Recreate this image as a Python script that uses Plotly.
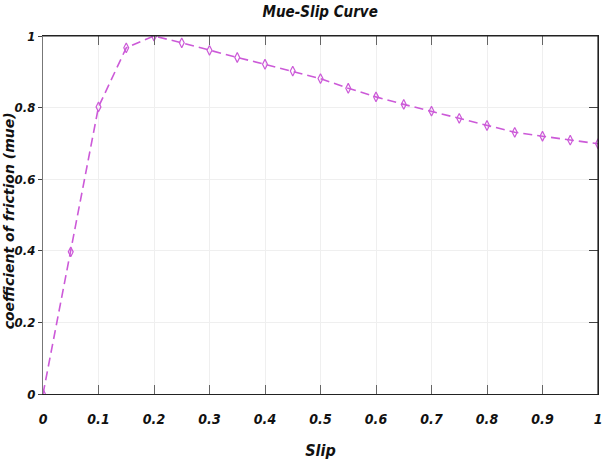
import plotly.graph_objects as go

# Slip ratio and the matching friction coefficient (mue)
slip = [0.0, 0.05, 0.1, 0.15, 0.2, 0.25, 0.3, 0.35, 0.4, 0.45, 0.5,
        0.55, 0.6, 0.65, 0.7, 0.75, 0.8, 0.85, 0.9, 0.95, 1.0]
mue = [0.0, 0.397, 0.802, 0.967, 1.0, 0.981, 0.96, 0.94, 0.921, 0.902, 0.881,
       0.854, 0.83, 0.809, 0.79, 0.77, 0.75, 0.731, 0.72, 0.709, 0.699]

x_ticks = [0, 0.1, 0.2, 0.3, 0.4, 0.5, 0.6, 0.7, 0.8, 0.9, 1]
x_tick_labels = ["0", "0.1", "0.2", "0.3", "0.4", "0.5", "0.6", "0.7", "0.8", "0.9", "1"]
y_ticks = [0, 0.2, 0.4, 0.6, 0.8, 1]
y_tick_labels = ["0", "0.2", "0.4", "0.6", "0.8", "1"]

LINE_COLOR = "#cc5ad8"
NARROW = "DejaVu Sans Condensed, Liberation Sans Narrow, sans-serif"
WIDE = "DejaVu Sans, Verdana, sans-serif"
X_TICK_FONT = dict(family=NARROW, size=14, color="#111", weight="bold", style="italic")
Y_TICK_FONT = dict(family=NARROW, size=13, color="#111", weight="bold", style="italic")

fig = go.Figure()
fig.add_trace(go.Scatter(
    x=slip, y=mue, mode="lines+markers",
    line=dict(color=LINE_COLOR, width=1.6, dash="9px,5px"),
    marker=dict(symbol="diamond-tall-open", size=7,
                color=LINE_COLOR, line=dict(color=LINE_COLOR, width=1.2)),
    showlegend=False,
))
# invisible twin on the right-hand axis, carries the inside tick marks there
fig.add_trace(go.Scatter(x=[0, 1], y=[0, 1], yaxis="y2", mode="lines",
                         line=dict(width=0), hoverinfo="skip", showlegend=False))

fig.update_layout(
    width=603, height=462,
    margin=dict(l=43, r=5, t=36, b=68, autoexpand=False),
    paper_bgcolor="white", plot_bgcolor="white",
    title=dict(
        text="Mue-Slip Curve", x=0.531, xanchor="center", y=0.974, yanchor="middle",
        font=dict(family=NARROW, size=15, color="#111", weight="bold", style="italic"),
    ),
    xaxis=dict(
        range=[0, 1], tickvals=x_ticks, ticktext=x_tick_labels,
        showgrid=True, gridcolor="#efefef", zeroline=False,
        showline=True, linecolor="#222", linewidth=1.2, mirror="ticks",
        ticks="inside", ticklen=9, tickwidth=1, tickcolor="#666",
        tickfont=X_TICK_FONT, ticklabelstandoff=12, automargin=False,
        ticklabeloverflow="allow",
        title=dict(text="Slip", standoff=18,
                   font=dict(family=NARROW, size=16, color="#111", weight="bold", style="italic")),
    ),
    yaxis=dict(
        range=[0, 1], tickvals=y_ticks, ticktext=y_tick_labels,
        showgrid=True, gridcolor="#efefef", zeroline=False,
        showline=True, linecolor="#777", linewidth=1.2,
        ticks="outside", ticklen=4, tickwidth=1, tickcolor="#444",
        tickfont=Y_TICK_FONT, ticklabelstandoff=0, automargin=False,
        ticklabeloverflow="allow",
    ),
    yaxis2=dict(
        range=[0, 1], tickvals=y_ticks, overlaying="y", side="right",
        showgrid=False, zeroline=False, showticklabels=False,
        showline=True, linecolor="#222", linewidth=1.2,
        ticks="inside", ticklen=9, tickwidth=1, tickcolor="#444",
    ),
    shapes=[
        # top and right edges of the axes box
        dict(type="line", xref="x domain", yref="y domain", x0=0, x1=1, y0=1, y1=1,
             line=dict(color="#222", width=1.2)),
        dict(type="line", xref="x domain", yref="y domain", x0=1, x1=1, y0=0, y1=1,
             line=dict(color="#222", width=1.2)),
    ],
    annotations=[
        dict(text="coefficient of friction (mue)", textangle=-90, showarrow=False,
             xref="x domain", yref="y domain", x=-0.0613, y=0.485,
             xanchor="center", yanchor="middle", borderpad=0,
             font=dict(family=WIDE, size=14, color="#111", weight="bold", style="italic")),
    ],
)

fig.write_html("out.html")
